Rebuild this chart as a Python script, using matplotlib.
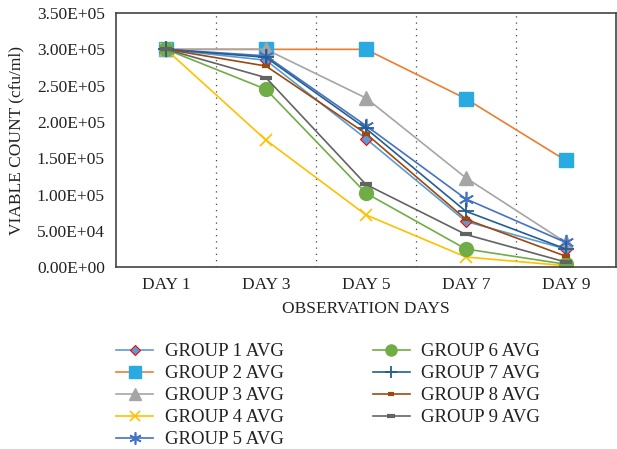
import matplotlib
matplotlib.use("Agg")
import matplotlib.pyplot as plt
from matplotlib.ticker import FuncFormatter

plt.rcParams['font.family'] = ['Liberation Serif', 'DejaVu Serif']

days = ["DAY 1", "DAY 3", "DAY 5", "DAY 7", "DAY 9"]
group_names = ["GROUP 1 AVG", "GROUP 2 AVG", "GROUP 3 AVG", "GROUP 4 AVG", "GROUP 5 AVG",
               "GROUP 6 AVG", "GROUP 7 AVG", "GROUP 8 AVG", "GROUP 9 AVG"]
g1 = [3.0e5, 2.85e5, 1.77e5, 6.3e4, 2.5e4]
g2 = [3.0e5, 3.0e5, 3.0e5, 2.32e5, 1.47e5]
g3 = [3.0e5, 3.0e5, 2.33e5, 1.23e5, 3.4e4]
g4 = [3.0e5, 1.75e5, 7.2e4, 1.4e4, 2.0e3]
g5 = [3.0e5, 2.91e5, 1.95e5, 9.4e4, 3.4e4]
g6 = [3.0e5, 2.45e5, 1.02e5, 2.5e4, 4.0e3]
g7 = [3.0e5, 2.89e5, 1.91e5, 7.7e4, 2.5e4]
g8 = [3.0e5, 2.77e5, 1.84e5, 6.6e4, 1.5e4]
g9 = [3.0e5, 2.61e5, 1.14e5, 4.5e4, 7.0e3]
series = [g1, g2, g3, g4, g5, g6, g7, g8, g9]

styles = [
    dict(color='#5B9BD5', marker='D', ms=6.5, mfc='#5B9BD5', mec='#FF0000', mew=0.8),
    dict(color='#ED7D31', marker='s', ms=10, mfc='#29ABE2', mec='#29ABE2', mew=1),
    dict(color='#A5A5A5', marker='^', ms=10, mfc='#A5A5A5', mec='#A5A5A5', mew=1),
    dict(color='#FFC000', marker='x', ms=9, mfc='#FFC000', mec='#FFC000', mew=1.2),
    dict(color='#4472C4', marker=(6, 2, 0), ms=11, mfc='#4472C4', mec='#4472C4', mew=1.2),
    dict(color='#70AD47', marker='o', ms=10, mfc='#70AD47', mec='#70AD47', mew=1),
    dict(color='#255E91', marker='+', ms=11, mfc='#255E91', mec='#255E91', mew=1.3),
    dict(color='#9E480E', marker='_', ms=6, mfc='#9E480E', mec='#9E480E', mew=3),
    dict(color='#636363', marker='_', ms=8, mfc='#636363', mec='#636363', mew=3),
]

fig = plt.figure(figsize=(6.17, 4.49), dpi=100)
ax = fig.add_axes([0.188, 0.405, 0.810, 0.566])

x = list(range(len(days)))
handles = []
for name, vals, st in zip(group_names, series, styles):
    h, = ax.plot(x, vals, lw=1.2, label=name, **st)
    handles.append(h)

ax.set_xlim(-0.5, len(days) - 0.5)
ax.set_ylim(0, 3.5e5)
ax.set_yticks([i * 5e4 for i in range(8)])
ax.yaxis.set_major_formatter(FuncFormatter(lambda v, p: '{:.2E}'.format(v)))
ax.set_xticks(x)
ax.set_xticklabels(days)
ax.tick_params(axis='both', length=0, labelsize=12.5, colors='#222222')
ax.tick_params(axis='y', pad=8)
ax.tick_params(axis='x', pad=7)
for b in [0.5, 1.5, 2.5, 3.5]:
    ax.axvline(b, color='#444444', lw=0.9, ls=(0, (1, 4)), zorder=0)
for s in ax.spines.values():
    s.set_color('#444444')
    s.set_linewidth(1.2)

ax.set_ylabel('VIABLE COUNT (cfu/ml)', fontsize=12.5, color='#222222', labelpad=9)
ax.set_xlabel('OBSERVATION DAYS', fontsize=12.5, color='#222222', labelpad=6)

fig.legend(handles=handles, loc='upper left', bbox_to_anchor=(0.188, 0.236),
           ncol=2, frameon=False, fontsize=13.5, handlelength=2.0,
           columnspacing=4.75, labelspacing=0.26, handletextpad=0.6,
           markerscale=0.8,
           labelcolor='#222222', borderaxespad=0, borderpad=0)

fig.savefig('out.png', dpi=100)
